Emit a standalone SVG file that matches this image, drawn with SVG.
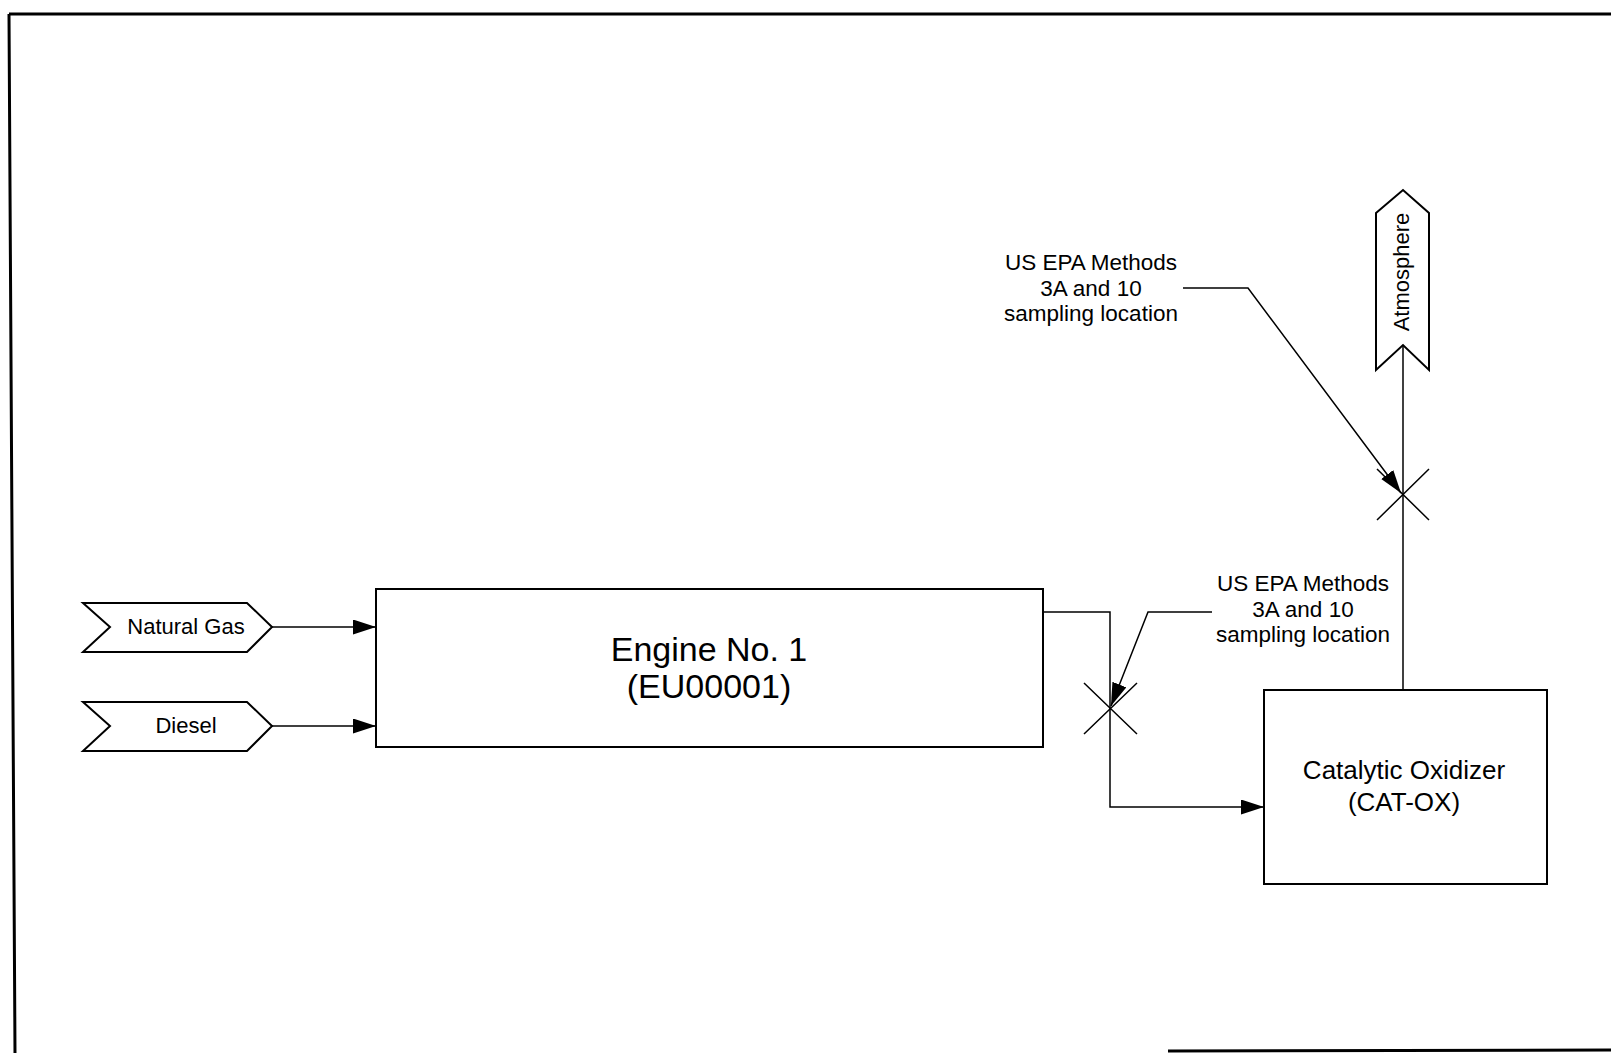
<svg xmlns="http://www.w3.org/2000/svg" width="1611" height="1053" viewBox="0 0 1611 1053">
<defs>
<style>
.bx{fill:#fff;stroke:#000;stroke-width:2}
.ln{fill:none;stroke:#000;stroke-width:1.5}
.fr{fill:none;stroke:#000;stroke-width:3}
text{font-family:"Liberation Sans",Arial,sans-serif;fill:#000}
.t1{font-size:34px;text-anchor:middle}
.t2{font-size:26px;text-anchor:middle}
.t3{font-size:22px;text-anchor:middle}
.t4{font-size:22.5px;text-anchor:middle}
</style>
<marker id="ah" markerUnits="userSpaceOnUse" markerWidth="24" markerHeight="16" refX="23" refY="7.5" orient="auto">
<path d="M0,0 L23,7.5 L0,15 z" fill="#000"/>
</marker>
</defs>
<rect width="1611" height="1053" fill="#fff"/>
<g id="frame">
<path class="fr" d="M9,14 L1611,14 M9,14 L15,1053 M1168,1051 L1611,1050"/>
</g>
<g id="natural-gas">
<path class="bx" d="M83,603 L247,603 L272,627 L247,652 L83,652 L110,627 Z"/>
<text class="t3" x="186" y="634">Natural Gas</text>
</g>
<g id="diesel">
<path class="bx" d="M83,702 L247,702 L272,726 L247,751 L83,751 L110,726 Z"/>
<text class="t3" x="186" y="733">Diesel</text>
</g>
<g id="engine">
<rect class="bx" x="376" y="589" width="667" height="158"/>
<text class="t1" x="709" y="661">Engine No. 1</text>
<text class="t1" x="709" y="698">(EU00001)</text>
</g>
<g id="catox">
<rect class="bx" x="1264" y="690" width="283" height="194"/>
<text class="t2" x="1404" y="779">Catalytic Oxidizer</text>
<text class="t2" x="1404" y="811">(CAT-OX)</text>
</g>
<g id="atmosphere">
<path class="bx" d="M1376,213 L1403,190 L1429,213 L1429,370 L1403,345 L1376,370 Z"/>
<text class="t3" transform="translate(1409,272) rotate(-90)">Atmosphere</text>
</g>
<g id="sample-1">
<path class="ln" d="M1084,683 L1137,734 M1137,683 L1084,734"/>
<text class="t4" x="1303" y="591">US EPA Methods</text>
<text class="t4" x="1303" y="617">3A and 10</text>
<text class="t4" x="1303" y="642">sampling location</text>
</g>
<g id="sample-2">
<path class="ln" d="M1377,469 L1429,520 M1429,469 L1377,520"/>
<text class="t4" x="1091" y="270">US EPA Methods</text>
<text class="t4" x="1091" y="296">3A and 10</text>
<text class="t4" x="1091" y="321">sampling location</text>
</g>
<g id="connectors">
<path class="ln" d="M272,627 L376,627" marker-end="url(#ah)"/>
<path class="ln" d="M272,726 L376,726" marker-end="url(#ah)"/>
<path class="ln" d="M1043,612 L1110,612 L1110,807 L1264,807" marker-end="url(#ah)"/>
<path class="ln" d="M1403,690 L1403,345"/>
<path class="ln" d="M1212,612 L1148,612 L1111,706" marker-end="url(#ah)"/>
<path class="ln" d="M1183,288 L1248,288 L1401,493" marker-end="url(#ah)"/>
</g>
</svg>
